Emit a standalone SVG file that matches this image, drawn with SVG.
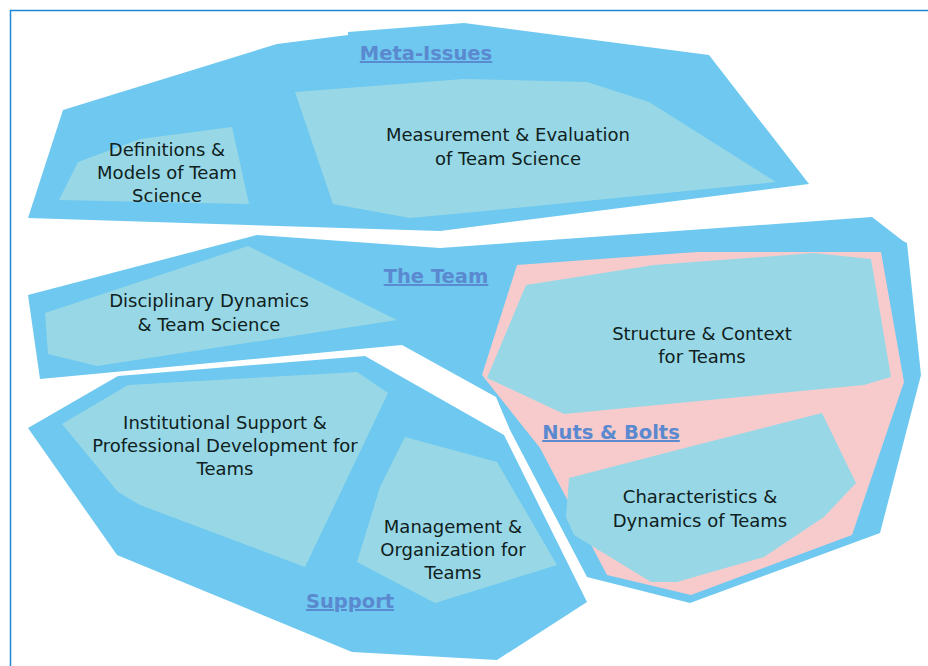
<svg xmlns="http://www.w3.org/2000/svg" width="928" height="666" viewBox="0 0 928 666">
<style>
.outer{fill:#6EC8EF}
.inner{fill:#98D8E6}
.pink{fill:#F7CBCC}
.lbl{font-family:"DejaVu Sans","Verdana",sans-serif;font-size:18px;fill:#0F2020;text-anchor:middle}
.hd{font-family:"DejaVu Sans","Verdana",sans-serif;font-size:19.5px;font-weight:bold;fill:#5A89CF;text-anchor:middle;text-decoration:underline}
</style>
<rect x="0" y="0" width="928" height="666" fill="#FFFFFF"/>
<rect x="10.5" y="10.5" width="940" height="680" fill="none" stroke="#1E88D8" stroke-width="1.5"/>

<g id="meta-issues">
<polygon class="outer" points="28,218 63,110 277,44 348,35 348,32 464,23 709,55 809,184 440,231"/>
<text class="hd" x="426" y="60">Meta-Issues</text>
</g>
<g id="definitions">
<polygon class="inner" points="59,200 78,162 140,139 232,127 249,204"/>
<text class="lbl" x="167" y="156">Definitions &amp;</text>
<text class="lbl" x="167" y="179">Models of Team</text>
<text class="lbl" x="167" y="202">Science</text>
</g>
<g id="measurement">
<polygon class="inner" points="295,92 464,79 587,82 649,102 776,182 464,213 410,218 333,204"/>
<text class="lbl" x="508" y="141">Measurement &amp; Evaluation</text>
<text class="lbl" x="508" y="165">of Team Science</text>
</g>

<g id="the-team">
<polygon class="outer" points="28,295 257,235 440,248 872,217 903,241 907,243 921,375 880,533 690,603 587,577 510,430 496,397 402,345 40,379"/>
<text class="hd" x="436" y="283">The Team</text>
</g>
<g id="disciplinary">
<polygon class="inner" points="45,313 248,246 397,320 97,366 48,354"/>
<text class="lbl" x="209" y="307">Disciplinary Dynamics</text>
<text class="lbl" x="209" y="331">&amp; Team Science</text>
</g>

<g id="nuts-bolts">
<polygon class="pink" points="517,265 697,252 881,252 904,382 891,420 852,535 691,595 607,575 540,448 482,375"/>
<text class="hd" x="611" y="439">Nuts &amp; Bolts</text>
</g>
<g id="structure">
<polygon class="inner" points="526,285 654,265 814,253 871,259 891,377 864,385 564,414 487,378"/>
<text class="lbl" x="702" y="340">Structure &amp; Context</text>
<text class="lbl" x="702" y="363">for Teams</text>
</g>
<g id="characteristics">
<polygon class="inner" points="569,478 677,450 822,413 856,483 824,517 764,557 677,582 651,582 574,535 566,517"/>
<text class="lbl" x="700" y="503">Characteristics &amp;</text>
<text class="lbl" x="700" y="527">Dynamics of Teams</text>
</g>

<g id="support">
<polygon class="outer" points="28,428 118,376 365,356 504,435 587,602 497,660 352,652 117,555"/>
<text class="hd" x="350" y="608">Support</text>
</g>
<g id="institutional">
<polygon class="inner" points="62,424 128,385 357,372 388,393 305,567 140,505 118,492"/>
<text class="lbl" x="225" y="429">Institutional Support &amp;</text>
<text class="lbl" x="225" y="452">Professional Development for</text>
<text class="lbl" x="225" y="475">Teams</text>
</g>
<g id="management">
<polygon class="inner" points="405,437 497,462 557,565 435,603 357,562 380,487"/>
<text class="lbl" x="453" y="533">Management &amp;</text>
<text class="lbl" x="453" y="556">Organization for</text>
<text class="lbl" x="453" y="579">Teams</text>
</g>
<g id="connectors"/>
</svg>
